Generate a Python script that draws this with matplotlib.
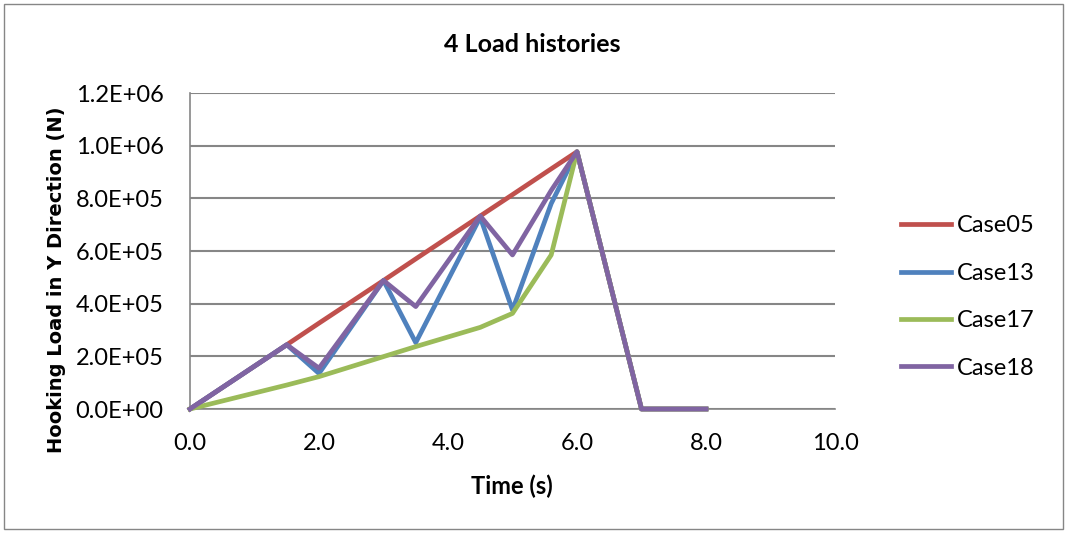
import matplotlib
matplotlib.use("Agg")
import matplotlib.pyplot as plt
from matplotlib.patches import Rectangle
from matplotlib.ticker import FuncFormatter

plt.rcParams['font.family'] = ['Lato', 'DejaVu Sans']

time = [0.0, 1.5, 2.0, 3.0, 3.5, 4.5, 5.0, 5.6, 6.0, 7.0, 8.0]
case05 = [0, 2.44e5, 3.26e5, 4.88e5, 5.70e5, 7.33e5, 8.14e5, 9.12e5, 9.77e5, 0, 0]
case13 = [0, 2.44e5, 1.35e5, 4.88e5, 2.52e5, 7.28e5, 3.76e5, 7.8e5, 9.77e5, 0, 0]
case17 = [0, 0.91e5, 1.23e5, 1.99e5, 2.37e5, 3.1e5, 3.63e5, 5.85e5, 9.77e5, 0, 0]
case18 = [0, 2.44e5, 1.55e5, 4.88e5, 3.89e5, 7.33e5, 5.85e5, 8.3e5, 9.77e5, 0, 0]
series = [("Case05", case05, "#C0504D"), ("Case13", case13, "#4F81BD"),
          ("Case17", case17, "#9BBB59"), ("Case18", case18, "#8064A2")]
xticks = [0, 2, 4, 6, 8, 10]
yticks = [0, 2e5, 4e5, 6e5, 8e5, 1e6, 1.2e6]

fig = plt.figure(figsize=(10.67, 5.33), dpi=100)
fig.patches.append(Rectangle((0.004, 0.008), 0.992, 0.984, transform=fig.transFigure,
                             fill=False, edgecolor="#868686", linewidth=1.0))
ax = fig.add_axes([190/1067, 1-409/533, 645/1067, 316/533])

for name, vals, col in series:
    ax.plot(time, vals, color=col, linewidth=3.4, label=name,
            solid_joinstyle='round', clip_on=False, zorder=3)

ax.set_xlim(0, 10)
ax.set_ylim(0, 1.2e6)
ax.set_xticks(xticks)
ax.set_yticks(yticks)
ax.xaxis.set_major_formatter(FuncFormatter(lambda v, p: f"{v:.1f}"))
def yfmt(v, p):
    m = f"{v:.1E}"
    mant, exp = m.split("E")
    return f"{mant}E{exp[0]}{int(exp[1:]):02d}"
ax.yaxis.set_major_formatter(FuncFormatter(yfmt))
ax.grid(axis='y', color="#868686", linewidth=1.5)
ax.set_axisbelow(True)
for s in ['top', 'right']:
    ax.spines[s].set_visible(False)
for s in ['left', 'bottom']:
    ax.spines[s].set_color("#868686")
    ax.spines[s].set_linewidth(1.2)
    ax.spines[s].set_zorder(1)
ax.tick_params(length=0, labelsize=17, colors="black")
ax.tick_params(axis='y', pad=19)
ax.tick_params(axis='x', pad=17)

fig.text(532/1067, 1-44/533, "4 Load histories", fontsize=18, fontweight='bold',
         ha='center', va='center')
ax.set_xlabel("Time (s)", fontsize=17, fontweight='bold', va='center')
ax.xaxis.set_label_coords((512-190)/645, (409-486)/316)
ax.set_ylabel("Hooking Load in Y Direction (N)", fontsize=14, fontweight='bold',
              family='DejaVu Sans', va='center')
ax.yaxis.set_label_coords((57-190)/645, (409-280)/316)

leg = ax.legend(loc='center left', bbox_to_anchor=(1.07, (409-297)/316), frameon=False,
                fontsize=17, handlelength=2.1, labelspacing=1.12, handletextpad=0.25)

fig.savefig("out.png", dpi=100)
